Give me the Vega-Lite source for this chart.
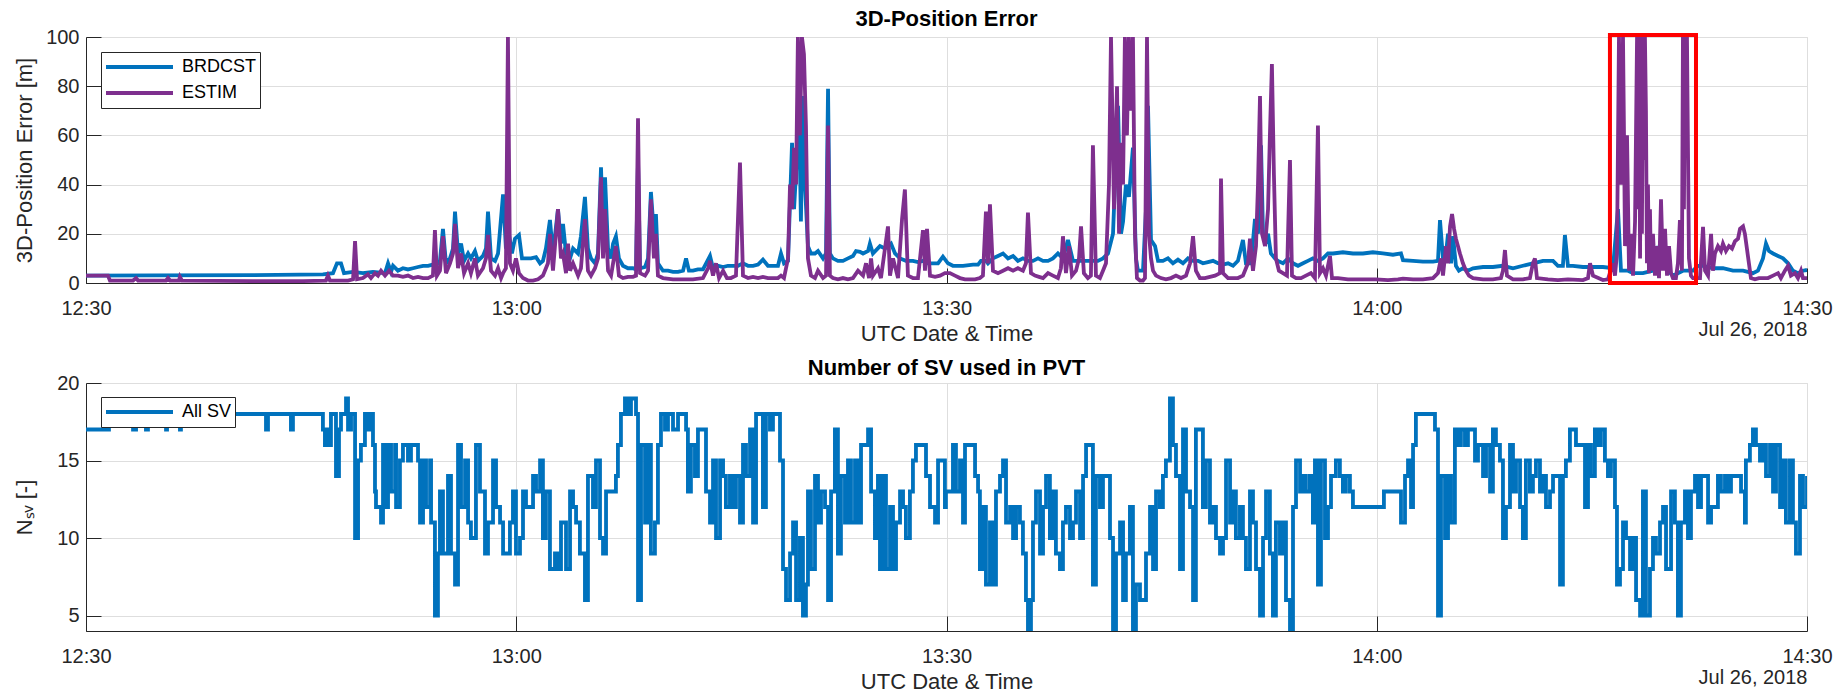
{
"$schema": "https://vega.github.io/schema/vega-lite/v6.json",
"padding": {"left": 12, "top": 7, "right": 5, "bottom": 0},
"bounds": "flush",
"spacing": 100,
"background": "white",
"resolve": {"scale": {"color": "independent"}, "legend": {"color": "independent"}},
"config": {
 "font": "Liberation Sans",
 "view": {"stroke": "#dcdcdc", "strokeWidth": 1},
 "axis": {"labelFont": "Liberation Sans", "titleFont": "Liberation Sans", "labelFontSize": 20, "titleFontSize": 22, "labelColor": "#262626", "titleColor": "#262626", "titleFontWeight": "normal", "domainColor": "#262626", "domainWidth": 1, "tickColor": "#262626", "tickSize": -15, "tickWidth": 1, "gridColor": "#dedede", "gridWidth": 1}
},
"datasets": {
"brdcst": [{"m":0,"v":3},{"m":4.67,"v":3.1},{"m":11.64,"v":3.2},{"m":16.52,"v":3.5},{"m":17.22,"v":4},{"m":17.5,"v":8},{"m":17.78,"v":8},{"m":17.99,"v":4},{"m":18.62,"v":4.5},{"m":19.31,"v":4},{"m":20.01,"v":4.5},{"m":20.85,"v":4},{"m":21.06,"v":8},{"m":21.27,"v":4.5},{"m":21.41,"v":7},{"m":21.75,"v":5},{"m":22.1,"v":6},{"m":22.45,"v":5.5},{"m":22.8,"v":6},{"m":23.15,"v":6.5},{"m":23.5,"v":7},{"m":23.85,"v":7},{"m":24.19,"v":7.5},{"m":24.4,"v":7},{"m":24.68,"v":9},{"m":24.89,"v":22},{"m":25.1,"v":8},{"m":25.38,"v":10},{"m":25.59,"v":14},{"m":25.73,"v":29},{"m":25.94,"v":12},{"m":26.15,"v":16},{"m":26.36,"v":9},{"m":26.64,"v":12},{"m":26.84,"v":10},{"m":27.12,"v":13},{"m":27.33,"v":9},{"m":27.68,"v":11},{"m":27.89,"v":14},{"m":28.03,"v":29},{"m":28.24,"v":10},{"m":28.52,"v":9},{"m":28.73,"v":12},{"m":29.08,"v":36},{"m":29.28,"v":14},{"m":29.49,"v":20},{"m":29.7,"v":12},{"m":29.91,"v":18},{"m":30.19,"v":19.5},{"m":30.4,"v":10},{"m":30.68,"v":10},{"m":31.03,"v":10},{"m":31.38,"v":10.5},{"m":31.66,"v":8},{"m":31.86,"v":9},{"m":32.07,"v":14},{"m":32.35,"v":25.6},{"m":32.56,"v":12},{"m":32.91,"v":30},{"m":33.12,"v":16},{"m":33.26,"v":24},{"m":33.47,"v":12},{"m":33.75,"v":10},{"m":33.96,"v":14},{"m":34.31,"v":12},{"m":34.51,"v":19},{"m":34.79,"v":35},{"m":35,"v":14},{"m":35.21,"v":10},{"m":35.49,"v":8},{"m":35.7,"v":12},{"m":35.91,"v":47},{"m":36.05,"v":20},{"m":36.19,"v":43},{"m":36.4,"v":14},{"m":36.61,"v":10},{"m":36.75,"v":16},{"m":36.95,"v":19},{"m":37.16,"v":10},{"m":37.44,"v":7},{"m":37.79,"v":6},{"m":38.14,"v":6},{"m":38.35,"v":5.5},{"m":38.49,"v":50},{"m":38.63,"v":6},{"m":38.98,"v":6.5},{"m":39.19,"v":10},{"m":39.39,"v":37},{"m":39.6,"v":20},{"m":39.74,"v":28},{"m":39.88,"v":8},{"m":40.23,"v":5},{"m":40.58,"v":5},{"m":40.93,"v":4.5},{"m":41.28,"v":4.5},{"m":41.63,"v":5},{"m":41.84,"v":10},{"m":42.04,"v":5},{"m":42.32,"v":5},{"m":42.67,"v":5.5},{"m":43.02,"v":5.5},{"m":43.51,"v":11},{"m":43.72,"v":6},{"m":44.07,"v":7},{"m":44.42,"v":6.5},{"m":44.76,"v":7},{"m":45.11,"v":7},{"m":45.46,"v":7},{"m":45.81,"v":8},{"m":46.16,"v":7},{"m":46.51,"v":7},{"m":46.86,"v":7.5},{"m":47.2,"v":9.5},{"m":47.55,"v":7},{"m":47.9,"v":7},{"m":48.25,"v":7},{"m":48.46,"v":12},{"m":48.67,"v":8},{"m":48.95,"v":9},{"m":49.23,"v":57},{"m":49.37,"v":30},{"m":49.51,"v":45},{"m":49.71,"v":72},{"m":49.85,"v":25},{"m":49.99,"v":76},{"m":50.13,"v":40},{"m":50.34,"v":15},{"m":50.55,"v":12},{"m":50.83,"v":12},{"m":51.04,"v":13},{"m":51.39,"v":10},{"m":51.6,"v":12},{"m":51.74,"v":79},{"m":51.87,"v":12},{"m":52.08,"v":10},{"m":52.43,"v":9},{"m":52.78,"v":9},{"m":53.13,"v":10},{"m":53.48,"v":11},{"m":53.69,"v":13},{"m":53.97,"v":12.7},{"m":54.18,"v":12},{"m":54.53,"v":13},{"m":54.66,"v":16},{"m":54.87,"v":12},{"m":55.36,"v":15},{"m":55.71,"v":14},{"m":56.13,"v":16},{"m":56.41,"v":12},{"m":56.76,"v":10},{"m":57.17,"v":9},{"m":57.66,"v":9},{"m":58.01,"v":8.5},{"m":58.36,"v":9},{"m":58.71,"v":8},{"m":59.06,"v":8},{"m":59.41,"v":8},{"m":59.75,"v":10.7},{"m":60.1,"v":8},{"m":60.45,"v":7},{"m":61.15,"v":7},{"m":61.85,"v":7.5},{"m":62.2,"v":7.5},{"m":62.4,"v":9},{"m":62.75,"v":9},{"m":62.89,"v":8},{"m":63.24,"v":10},{"m":63.59,"v":11},{"m":63.94,"v":12},{"m":64.29,"v":10},{"m":64.64,"v":11},{"m":64.98,"v":9},{"m":65.33,"v":10},{"m":65.68,"v":9},{"m":66.03,"v":9},{"m":66.38,"v":10},{"m":66.73,"v":9},{"m":67.08,"v":9},{"m":67.42,"v":10},{"m":67.77,"v":12},{"m":68.12,"v":10},{"m":68.47,"v":17.5},{"m":68.82,"v":9},{"m":69.52,"v":9},{"m":70.21,"v":9},{"m":70.56,"v":9},{"m":70.91,"v":10},{"m":71.26,"v":12},{"m":71.61,"v":20},{"m":71.96,"v":72},{"m":72.17,"v":20},{"m":72.31,"v":25},{"m":72.51,"v":40},{"m":72.72,"v":35},{"m":73,"v":55},{"m":73.21,"v":10},{"m":73.35,"v":5},{"m":73.7,"v":5},{"m":73.91,"v":30},{"m":74.05,"v":72},{"m":74.26,"v":17.5},{"m":74.54,"v":15},{"m":74.75,"v":9},{"m":75.09,"v":9},{"m":75.44,"v":10},{"m":75.79,"v":8},{"m":76.14,"v":9.5},{"m":76.49,"v":8},{"m":76.84,"v":10},{"m":77.19,"v":9},{"m":77.54,"v":9},{"m":77.88,"v":8},{"m":78.23,"v":8.5},{"m":78.58,"v":9},{"m":78.93,"v":8},{"m":79.28,"v":7.5},{"m":79.63,"v":8},{"m":79.98,"v":7},{"m":80.32,"v":9},{"m":80.67,"v":17.5},{"m":80.88,"v":8},{"m":81.23,"v":8},{"m":81.51,"v":26},{"m":81.72,"v":20},{"m":81.93,"v":56},{"m":82.07,"v":20},{"m":82.28,"v":17},{"m":82.42,"v":20},{"m":82.62,"v":12},{"m":82.9,"v":10},{"m":83.11,"v":9},{"m":83.46,"v":8},{"m":83.81,"v":10},{"m":84.16,"v":8},{"m":84.51,"v":7},{"m":84.86,"v":8},{"m":85.2,"v":9},{"m":85.55,"v":10},{"m":85.9,"v":9},{"m":86.25,"v":10},{"m":86.6,"v":12},{"m":86.95,"v":12},{"m":87.64,"v":12.5},{"m":88.34,"v":12},{"m":89.04,"v":12},{"m":89.73,"v":12.5},{"m":90.43,"v":12},{"m":91.13,"v":11.5},{"m":91.69,"v":12},{"m":91.83,"v":9.3},{"m":92.53,"v":9},{"m":93.22,"v":8.7},{"m":93.92,"v":8.7},{"m":94.27,"v":9},{"m":94.41,"v":25.6},{"m":94.62,"v":10},{"m":94.83,"v":12},{"m":94.97,"v":20},{"m":95.18,"v":8},{"m":95.32,"v":19},{"m":95.52,"v":7},{"m":95.73,"v":5},{"m":96.01,"v":6},{"m":96.36,"v":5},{"m":96.71,"v":6},{"m":97.41,"v":6.5},{"m":98.1,"v":6.5},{"m":98.8,"v":7},{"m":99.5,"v":6},{"m":100.19,"v":7},{"m":100.89,"v":8},{"m":101.59,"v":9},{"m":102.29,"v":9},{"m":102.63,"v":7},{"m":102.98,"v":7},{"m":103.12,"v":19.5},{"m":103.33,"v":7},{"m":103.68,"v":7},{"m":104.38,"v":6.5},{"m":105.08,"v":6.5},{"m":105.77,"v":6.5},{"m":106.47,"v":6},{"m":106.82,"v":30},{"m":107.03,"v":5},{"m":107.52,"v":5},{"m":107.87,"v":4},{"m":108.56,"v":4},{"m":109.26,"v":5},{"m":109.61,"v":15},{"m":109.82,"v":8},{"m":110.31,"v":5},{"m":110.65,"v":3},{"m":111.35,"v":5},{"m":112.05,"v":5},{"m":112.4,"v":7},{"m":112.75,"v":7},{"m":113.44,"v":6},{"m":114.14,"v":6},{"m":114.84,"v":5},{"m":115.54,"v":5},{"m":116.23,"v":4},{"m":116.58,"v":5},{"m":116.93,"v":10},{"m":117.14,"v":16},{"m":117.35,"v":13},{"m":117.63,"v":12},{"m":117.98,"v":11},{"m":118.33,"v":10},{"m":118.68,"v":8},{"m":119.02,"v":5},{"m":119.37,"v":4},{"m":119.72,"v":5},{"m":120,"v":5.3}],
"estim": [{"m":0,"v":3},{"m":1.19,"v":3},{"m":1.53,"v":3},{"m":1.67,"v":1},{"m":3.28,"v":1},{"m":3.49,"v":2},{"m":3.63,"v":1},{"m":5.58,"v":1},{"m":5.72,"v":2},{"m":5.86,"v":1},{"m":6.48,"v":1},{"m":6.55,"v":2.5},{"m":6.69,"v":1},{"m":11.64,"v":0.8},{"m":15.13,"v":0.8},{"m":16.73,"v":1},{"m":16.87,"v":3},{"m":17.01,"v":1},{"m":18.27,"v":1},{"m":18.62,"v":1.5},{"m":18.76,"v":17},{"m":18.9,"v":1.5},{"m":19.31,"v":2},{"m":19.66,"v":3.5},{"m":19.87,"v":2},{"m":20.15,"v":4},{"m":20.36,"v":3},{"m":20.57,"v":5},{"m":20.85,"v":3},{"m":21.13,"v":5},{"m":21.41,"v":3},{"m":21.75,"v":3},{"m":22.1,"v":2.5},{"m":22.45,"v":3},{"m":22.8,"v":2},{"m":23.15,"v":2.5},{"m":23.5,"v":2},{"m":23.85,"v":2},{"m":24.19,"v":3},{"m":24.33,"v":21.5},{"m":24.47,"v":3},{"m":24.68,"v":5},{"m":24.89,"v":19},{"m":25.1,"v":4},{"m":25.38,"v":8},{"m":25.59,"v":12},{"m":25.73,"v":24},{"m":25.94,"v":6},{"m":26.15,"v":12},{"m":26.36,"v":4},{"m":26.64,"v":8},{"m":26.84,"v":4},{"m":27.12,"v":10},{"m":27.33,"v":3},{"m":27.68,"v":6},{"m":27.89,"v":10},{"m":28.03,"v":19.5},{"m":28.24,"v":5},{"m":28.52,"v":3},{"m":28.73,"v":6},{"m":28.94,"v":2},{"m":29.08,"v":4},{"m":29.28,"v":6},{"m":29.42,"v":100},{"m":29.56,"v":8},{"m":29.77,"v":5},{"m":29.98,"v":10},{"m":30.19,"v":4},{"m":30.47,"v":2},{"m":30.82,"v":1},{"m":31.17,"v":1},{"m":31.52,"v":1.5},{"m":31.86,"v":3},{"m":32.21,"v":8},{"m":32.35,"v":20},{"m":32.56,"v":5},{"m":32.91,"v":30},{"m":33.12,"v":10},{"m":33.26,"v":12},{"m":33.47,"v":4},{"m":33.61,"v":16},{"m":33.75,"v":5},{"m":33.96,"v":8},{"m":34.31,"v":3},{"m":34.51,"v":6},{"m":34.79,"v":26},{"m":35,"v":5},{"m":35.21,"v":3},{"m":35.49,"v":6},{"m":35.7,"v":10},{"m":35.91,"v":43},{"m":36.05,"v":10},{"m":36.19,"v":30},{"m":36.4,"v":5},{"m":36.61,"v":3},{"m":36.75,"v":8},{"m":36.95,"v":15},{"m":37.16,"v":3},{"m":37.44,"v":2},{"m":37.79,"v":2.5},{"m":38.14,"v":2.5},{"m":38.35,"v":3},{"m":38.49,"v":67},{"m":38.63,"v":4},{"m":38.98,"v":3},{"m":39.19,"v":5},{"m":39.39,"v":34},{"m":39.6,"v":10},{"m":39.74,"v":20},{"m":39.88,"v":3},{"m":40.23,"v":2},{"m":40.93,"v":1.5},{"m":41.63,"v":1.5},{"m":42.32,"v":1.5},{"m":43.02,"v":2},{"m":43.37,"v":6},{"m":43.51,"v":9},{"m":43.72,"v":3},{"m":43.93,"v":8},{"m":44.14,"v":2},{"m":44.42,"v":5},{"m":44.69,"v":2},{"m":44.97,"v":2},{"m":45.32,"v":3},{"m":45.6,"v":49},{"m":45.81,"v":3},{"m":46.16,"v":2},{"m":46.51,"v":2.5},{"m":46.86,"v":2},{"m":47.2,"v":2.5},{"m":47.55,"v":2},{"m":47.9,"v":2},{"m":48.25,"v":2},{"m":48.46,"v":3},{"m":48.67,"v":2},{"m":48.95,"v":10},{"m":49.09,"v":40},{"m":49.23,"v":30},{"m":49.37,"v":55},{"m":49.51,"v":40},{"m":49.64,"v":100},{"m":49.78,"v":60},{"m":49.92,"v":100},{"m":50.06,"v":93},{"m":50.2,"v":64},{"m":50.34,"v":10},{"m":50.55,"v":3},{"m":50.83,"v":2},{"m":51.04,"v":5},{"m":51.39,"v":2},{"m":51.6,"v":3},{"m":51.74,"v":64},{"m":51.87,"v":3},{"m":52.08,"v":2},{"m":52.43,"v":1.5},{"m":52.78,"v":2},{"m":53.13,"v":1.5},{"m":53.48,"v":2},{"m":53.83,"v":5},{"m":54.18,"v":3},{"m":54.39,"v":8},{"m":54.6,"v":2},{"m":54.74,"v":10},{"m":54.87,"v":3},{"m":55.22,"v":6},{"m":55.43,"v":2},{"m":55.92,"v":23},{"m":56.06,"v":3},{"m":56.27,"v":10},{"m":56.62,"v":2},{"m":56.9,"v":26},{"m":57.1,"v":38},{"m":57.31,"v":3},{"m":57.66,"v":2},{"m":58.01,"v":2},{"m":58.36,"v":21.5},{"m":58.5,"v":5},{"m":58.64,"v":22},{"m":58.85,"v":3},{"m":59.2,"v":2.5},{"m":59.55,"v":3},{"m":59.89,"v":4},{"m":60.24,"v":4},{"m":60.59,"v":3},{"m":60.94,"v":2},{"m":61.29,"v":1.5},{"m":61.64,"v":1.5},{"m":61.99,"v":1.5},{"m":62.33,"v":2},{"m":62.54,"v":3},{"m":62.75,"v":29},{"m":62.89,"v":8},{"m":63.03,"v":32},{"m":63.24,"v":5},{"m":63.59,"v":4},{"m":63.94,"v":5},{"m":64.29,"v":6},{"m":64.64,"v":5},{"m":64.98,"v":6},{"m":65.33,"v":5},{"m":65.54,"v":8},{"m":65.68,"v":28.6},{"m":65.89,"v":4},{"m":66.17,"v":3},{"m":66.45,"v":2.5},{"m":66.73,"v":2},{"m":67.08,"v":4},{"m":67.42,"v":3},{"m":67.77,"v":2},{"m":67.98,"v":6},{"m":68.12,"v":19},{"m":68.33,"v":4},{"m":68.54,"v":15},{"m":68.75,"v":3},{"m":69.03,"v":5},{"m":69.24,"v":10},{"m":69.38,"v":23},{"m":69.58,"v":4},{"m":69.86,"v":2},{"m":70.07,"v":3},{"m":70.21,"v":56},{"m":70.42,"v":3},{"m":70.7,"v":2},{"m":70.91,"v":5},{"m":71.12,"v":8},{"m":71.33,"v":40},{"m":71.47,"v":100},{"m":71.68,"v":30},{"m":71.89,"v":80},{"m":72.03,"v":20},{"m":72.17,"v":57},{"m":72.31,"v":40},{"m":72.44,"v":100},{"m":72.58,"v":60},{"m":72.72,"v":100},{"m":72.86,"v":70},{"m":73,"v":100},{"m":73.14,"v":20},{"m":73.28,"v":2},{"m":73.49,"v":1},{"m":73.7,"v":1},{"m":73.84,"v":2},{"m":73.98,"v":100},{"m":74.12,"v":20},{"m":74.26,"v":10},{"m":74.4,"v":5},{"m":74.61,"v":3},{"m":74.95,"v":2},{"m":75.3,"v":1.5},{"m":75.65,"v":2},{"m":76,"v":3},{"m":76.35,"v":2},{"m":76.7,"v":3},{"m":76.98,"v":8},{"m":77.19,"v":19},{"m":77.39,"v":5},{"m":77.67,"v":2},{"m":78.02,"v":2},{"m":78.37,"v":2.5},{"m":78.72,"v":3},{"m":79.07,"v":4},{"m":79.14,"v":42.5},{"m":79.28,"v":4},{"m":79.63,"v":2},{"m":79.98,"v":2},{"m":80.32,"v":2},{"m":80.67,"v":3},{"m":81.02,"v":8},{"m":81.16,"v":18},{"m":81.37,"v":5},{"m":81.58,"v":15},{"m":81.72,"v":40},{"m":81.86,"v":76},{"m":82,"v":20},{"m":82.21,"v":15},{"m":82.42,"v":30},{"m":82.55,"v":60},{"m":82.69,"v":89},{"m":82.83,"v":44},{"m":82.97,"v":10},{"m":83.18,"v":5},{"m":83.46,"v":4},{"m":83.74,"v":3},{"m":83.95,"v":50},{"m":84.09,"v":3},{"m":84.37,"v":2},{"m":84.72,"v":2},{"m":85.06,"v":3},{"m":85.41,"v":4},{"m":85.69,"v":2},{"m":85.9,"v":64},{"m":86.04,"v":4},{"m":86.25,"v":6},{"m":86.46,"v":3},{"m":86.74,"v":11},{"m":86.88,"v":2},{"m":87.29,"v":2},{"m":87.99,"v":1.5},{"m":89.04,"v":1.5},{"m":89.94,"v":1.5},{"m":90.78,"v":1.2},{"m":91.48,"v":1.5},{"m":91.83,"v":1.8},{"m":92.53,"v":1.5},{"m":93.22,"v":1.5},{"m":93.92,"v":2},{"m":94.27,"v":4},{"m":94.48,"v":10},{"m":94.62,"v":3},{"m":94.83,"v":15},{"m":94.97,"v":8},{"m":95.11,"v":23},{"m":95.25,"v":28},{"m":95.39,"v":22},{"m":95.52,"v":18},{"m":95.66,"v":15},{"m":95.8,"v":12},{"m":96.01,"v":8},{"m":96.22,"v":5},{"m":96.43,"v":3},{"m":96.71,"v":2},{"m":97.41,"v":1.5},{"m":98.1,"v":1.5},{"m":98.66,"v":2},{"m":98.8,"v":5},{"m":98.94,"v":13.4},{"m":99.08,"v":3},{"m":99.5,"v":1.5},{"m":100.19,"v":1.5},{"m":100.68,"v":2},{"m":100.89,"v":8},{"m":101.03,"v":10},{"m":101.17,"v":2},{"m":101.94,"v":1.5},{"m":102.63,"v":1.2},{"m":103.33,"v":1.5},{"m":104.38,"v":1.2},{"m":104.73,"v":2},{"m":104.87,"v":8},{"m":105.08,"v":3},{"m":105.77,"v":1.2},{"m":106.12,"v":1.5},{"m":106.47,"v":8},{"m":106.61,"v":3},{"m":106.75,"v":12},{"m":106.89,"v":100},{"m":107.03,"v":40},{"m":107.17,"v":100},{"m":107.24,"v":60},{"m":107.31,"v":15},{"m":107.45,"v":60},{"m":107.59,"v":5},{"m":107.73,"v":20},{"m":107.87,"v":3},{"m":108.01,"v":25},{"m":108.15,"v":100},{"m":108.22,"v":30},{"m":108.29,"v":100},{"m":108.36,"v":10},{"m":108.43,"v":100},{"m":108.49,"v":20},{"m":108.56,"v":100},{"m":108.63,"v":50},{"m":108.7,"v":100},{"m":108.77,"v":70},{"m":108.84,"v":8},{"m":108.91,"v":40},{"m":108.98,"v":4},{"m":109.05,"v":30},{"m":109.12,"v":5},{"m":109.26,"v":20},{"m":109.4,"v":3},{"m":109.54,"v":15},{"m":109.68,"v":2},{"m":109.82,"v":34},{"m":109.96,"v":5},{"m":110.1,"v":22},{"m":110.24,"v":3},{"m":110.38,"v":15},{"m":110.52,"v":4},{"m":110.65,"v":2},{"m":110.86,"v":2},{"m":111,"v":8},{"m":111.14,"v":25.6},{"m":111.28,"v":5},{"m":111.35,"v":100},{"m":111.42,"v":30},{"m":111.49,"v":100},{"m":111.56,"v":60},{"m":111.63,"v":100},{"m":111.77,"v":10},{"m":111.91,"v":3},{"m":112.05,"v":2},{"m":112.26,"v":2},{"m":112.54,"v":2},{"m":112.75,"v":22.8},{"m":112.89,"v":5},{"m":113.1,"v":3},{"m":113.31,"v":20},{"m":113.44,"v":5},{"m":113.58,"v":12},{"m":113.79,"v":15},{"m":114,"v":13},{"m":114.14,"v":16},{"m":114.35,"v":13},{"m":114.56,"v":15},{"m":114.77,"v":14},{"m":114.98,"v":17},{"m":115.19,"v":18},{"m":115.33,"v":22},{"m":115.54,"v":23},{"m":115.67,"v":20},{"m":115.81,"v":14},{"m":115.95,"v":8},{"m":116.09,"v":2},{"m":116.37,"v":1.5},{"m":116.65,"v":2},{"m":116.93,"v":2},{"m":117.28,"v":2},{"m":117.63,"v":3},{"m":117.98,"v":4},{"m":118.18,"v":2},{"m":118.46,"v":5},{"m":118.68,"v":7},{"m":118.88,"v":3},{"m":119.16,"v":4},{"m":119.37,"v":2},{"m":119.58,"v":5},{"m":119.72,"v":2},{"m":120,"v":2}],
"box": [{"m0":106.26,"m1":112.26,"v0":0,"v1":100.8}],
"nsv": [{"m":0,"v":17},{"m":1.6,"v":18},{"m":3.28,"v":17},{"m":3.49,"v":18},{"m":4.18,"v":17},{"m":4.32,"v":18},{"m":5.58,"v":17},{"m":5.65,"v":18},{"m":6.55,"v":17},{"m":6.62,"v":18},{"m":12.55,"v":17},{"m":12.69,"v":18},{"m":14.29,"v":17},{"m":14.43,"v":18},{"m":16.52,"v":17},{"m":16.66,"v":16},{"m":16.8,"v":17},{"m":17.01,"v":16},{"m":17.08,"v":18},{"m":17.43,"v":14},{"m":17.64,"v":17},{"m":17.78,"v":18},{"m":18.13,"v":19},{"m":18.27,"v":17},{"m":18.48,"v":18},{"m":18.76,"v":10},{"m":18.97,"v":15},{"m":19.17,"v":16},{"m":19.45,"v":18},{"m":19.66,"v":17},{"m":19.8,"v":18},{"m":20.01,"v":16},{"m":20.15,"v":13},{"m":20.22,"v":12},{"m":20.57,"v":11},{"m":20.71,"v":16},{"m":20.85,"v":12},{"m":21.06,"v":16},{"m":21.27,"v":13},{"m":21.55,"v":16},{"m":21.62,"v":12},{"m":21.89,"v":15},{"m":22.1,"v":16},{"m":22.45,"v":15},{"m":22.66,"v":16},{"m":23.15,"v":15},{"m":23.29,"v":11},{"m":23.5,"v":15},{"m":23.71,"v":12},{"m":23.99,"v":15},{"m":24.06,"v":11},{"m":24.33,"v":5},{"m":24.54,"v":9},{"m":24.68,"v":13},{"m":24.89,"v":9},{"m":25.24,"v":14},{"m":25.45,"v":9},{"m":25.73,"v":7},{"m":25.94,"v":16},{"m":26.15,"v":12},{"m":26.43,"v":15},{"m":26.64,"v":11},{"m":26.84,"v":10},{"m":27.19,"v":16},{"m":27.47,"v":13},{"m":27.82,"v":9},{"m":28.03,"v":11},{"m":28.38,"v":15},{"m":28.59,"v":12},{"m":28.87,"v":11},{"m":29.08,"v":9},{"m":29.56,"v":11},{"m":29.77,"v":13},{"m":29.98,"v":9},{"m":30.26,"v":10},{"m":30.47,"v":13},{"m":30.68,"v":12},{"m":31.17,"v":14},{"m":31.38,"v":13},{"m":31.66,"v":15},{"m":31.86,"v":10},{"m":32.07,"v":13},{"m":32.35,"v":8},{"m":32.7,"v":9},{"m":32.91,"v":8},{"m":33.12,"v":11},{"m":33.47,"v":8},{"m":33.75,"v":13},{"m":33.96,"v":12},{"m":34.17,"v":11},{"m":34.44,"v":9},{"m":34.79,"v":6},{"m":35,"v":14},{"m":35.35,"v":12},{"m":35.56,"v":15},{"m":35.84,"v":10},{"m":36.05,"v":9},{"m":36.26,"v":13},{"m":36.95,"v":14},{"m":37.09,"v":16},{"m":37.3,"v":18},{"m":37.58,"v":19},{"m":37.79,"v":18},{"m":38,"v":19},{"m":38.35,"v":18},{"m":38.49,"v":6},{"m":38.7,"v":16},{"m":38.98,"v":11},{"m":39.19,"v":16},{"m":39.39,"v":9},{"m":39.67,"v":11},{"m":39.88,"v":16},{"m":40.09,"v":18},{"m":40.37,"v":17},{"m":40.58,"v":18},{"m":40.93,"v":17},{"m":41.28,"v":18},{"m":41.84,"v":17},{"m":41.97,"v":13},{"m":42.18,"v":16},{"m":42.46,"v":14},{"m":42.67,"v":17},{"m":43.23,"v":13},{"m":43.51,"v":11},{"m":43.72,"v":15},{"m":43.93,"v":10},{"m":44.21,"v":15},{"m":44.42,"v":14},{"m":44.62,"v":12},{"m":44.9,"v":14},{"m":45.11,"v":12},{"m":45.32,"v":14},{"m":45.6,"v":11},{"m":45.81,"v":16},{"m":46.02,"v":14},{"m":46.3,"v":17},{"m":46.51,"v":11},{"m":46.72,"v":18},{"m":47.2,"v":12},{"m":47.41,"v":18},{"m":47.69,"v":17},{"m":47.9,"v":18},{"m":48.39,"v":15},{"m":48.6,"v":8},{"m":48.81,"v":6},{"m":49.09,"v":9},{"m":49.3,"v":11},{"m":49.51,"v":6},{"m":49.78,"v":10},{"m":49.99,"v":5},{"m":50.2,"v":7},{"m":50.34,"v":13},{"m":50.55,"v":8},{"m":50.83,"v":14},{"m":51.04,"v":11},{"m":51.25,"v":13},{"m":51.53,"v":12},{"m":51.74,"v":6},{"m":51.95,"v":13},{"m":52.22,"v":17},{"m":52.43,"v":9},{"m":52.64,"v":14},{"m":52.92,"v":11},{"m":53.13,"v":15},{"m":53.34,"v":11},{"m":53.62,"v":15},{"m":53.83,"v":11},{"m":54.04,"v":16},{"m":54.53,"v":17},{"m":54.74,"v":13},{"m":55.01,"v":10},{"m":55.22,"v":14},{"m":55.36,"v":8},{"m":55.57,"v":14},{"m":55.78,"v":8},{"m":56.06,"v":12},{"m":56.27,"v":8},{"m":56.48,"v":11},{"m":56.76,"v":13},{"m":56.97,"v":12},{"m":57.17,"v":10},{"m":57.45,"v":13},{"m":57.66,"v":15},{"m":57.87,"v":16},{"m":58.57,"v":14},{"m":58.85,"v":12},{"m":59.2,"v":11},{"m":59.41,"v":15},{"m":59.89,"v":12},{"m":59.96,"v":13},{"m":60.45,"v":16},{"m":60.66,"v":13},{"m":60.94,"v":15},{"m":61.15,"v":11},{"m":61.29,"v":16},{"m":61.99,"v":14},{"m":62.2,"v":13},{"m":62.33,"v":8},{"m":62.54,"v":12},{"m":62.75,"v":7},{"m":63.03,"v":11},{"m":63.24,"v":7},{"m":63.45,"v":13},{"m":63.73,"v":14},{"m":63.94,"v":15},{"m":64.15,"v":11},{"m":64.43,"v":12},{"m":64.64,"v":10},{"m":64.85,"v":12},{"m":65.12,"v":11},{"m":65.33,"v":9},{"m":65.54,"v":6},{"m":65.68,"v":4},{"m":65.89,"v":6},{"m":66.03,"v":11},{"m":66.24,"v":13},{"m":66.52,"v":9},{"m":66.73,"v":12},{"m":66.94,"v":14},{"m":67.21,"v":10},{"m":67.42,"v":13},{"m":67.63,"v":9},{"m":67.91,"v":8},{"m":68.12,"v":11},{"m":68.33,"v":12},{"m":68.61,"v":10},{"m":68.82,"v":11},{"m":69.03,"v":13},{"m":69.31,"v":10},{"m":69.52,"v":14},{"m":69.73,"v":16},{"m":70.21,"v":7},{"m":70.42,"v":14},{"m":70.7,"v":12},{"m":70.91,"v":14},{"m":71.4,"v":10},{"m":71.61,"v":4},{"m":71.82,"v":9},{"m":72.1,"v":11},{"m":72.31,"v":6},{"m":72.51,"v":9},{"m":72.79,"v":12},{"m":73,"v":4},{"m":73.21,"v":7},{"m":73.49,"v":6},{"m":73.91,"v":9},{"m":74.19,"v":12},{"m":74.4,"v":8},{"m":74.61,"v":13},{"m":74.88,"v":12},{"m":75.09,"v":14},{"m":75.3,"v":15},{"m":75.58,"v":19},{"m":75.79,"v":16},{"m":76,"v":14},{"m":76.28,"v":8},{"m":76.49,"v":17},{"m":76.7,"v":13},{"m":76.98,"v":12},{"m":77.19,"v":6},{"m":77.39,"v":17},{"m":77.88,"v":12},{"m":78.09,"v":15},{"m":78.37,"v":11},{"m":78.58,"v":12},{"m":78.79,"v":10},{"m":79.07,"v":9},{"m":79.28,"v":10},{"m":79.49,"v":15},{"m":79.77,"v":11},{"m":79.98,"v":13},{"m":80.18,"v":10},{"m":80.46,"v":12},{"m":80.67,"v":10},{"m":80.88,"v":8},{"m":81.16,"v":13},{"m":81.37,"v":11},{"m":81.58,"v":8},{"m":81.86,"v":5},{"m":82.07,"v":10},{"m":82.28,"v":13},{"m":82.55,"v":9},{"m":82.76,"v":5},{"m":82.97,"v":11},{"m":83.25,"v":9},{"m":83.46,"v":11},{"m":83.67,"v":6},{"m":83.95,"v":4},{"m":84.16,"v":12},{"m":84.37,"v":15},{"m":84.65,"v":13},{"m":84.86,"v":14},{"m":85.06,"v":13},{"m":85.34,"v":14},{"m":85.55,"v":11},{"m":85.69,"v":15},{"m":85.9,"v":7},{"m":86.11,"v":15},{"m":86.39,"v":10},{"m":86.6,"v":12},{"m":86.81,"v":14},{"m":87.15,"v":15},{"m":87.43,"v":14},{"m":87.64,"v":13},{"m":87.85,"v":14},{"m":88.13,"v":13},{"m":88.34,"v":12},{"m":90.5,"v":13},{"m":91.69,"v":11},{"m":91.97,"v":14},{"m":92.18,"v":15},{"m":92.39,"v":12},{"m":92.53,"v":16},{"m":92.73,"v":18},{"m":94.06,"v":17},{"m":94.27,"v":5},{"m":94.48,"v":14},{"m":94.76,"v":10},{"m":94.97,"v":14},{"m":95.18,"v":11},{"m":95.45,"v":17},{"m":95.66,"v":16},{"m":95.87,"v":17},{"m":96.15,"v":16},{"m":96.36,"v":17},{"m":96.85,"v":15},{"m":97.06,"v":16},{"m":97.41,"v":14},{"m":97.62,"v":16},{"m":97.9,"v":13},{"m":98.1,"v":17},{"m":98.31,"v":16},{"m":98.59,"v":15},{"m":98.8,"v":10},{"m":99.01,"v":12},{"m":99.29,"v":16},{"m":99.5,"v":13},{"m":99.71,"v":15},{"m":99.99,"v":12},{"m":100.19,"v":10},{"m":100.4,"v":15},{"m":100.68,"v":13},{"m":100.89,"v":14},{"m":101.1,"v":15},{"m":101.38,"v":13},{"m":101.59,"v":14},{"m":101.8,"v":12},{"m":102.08,"v":13},{"m":102.29,"v":14},{"m":102.78,"v":7},{"m":102.98,"v":14},{"m":103.19,"v":15},{"m":103.47,"v":17},{"m":103.89,"v":16},{"m":104.52,"v":12},{"m":104.73,"v":16},{"m":104.94,"v":14},{"m":105.21,"v":17},{"m":105.42,"v":16},{"m":105.63,"v":17},{"m":105.91,"v":15},{"m":106.12,"v":14},{"m":106.33,"v":15},{"m":106.61,"v":12},{"m":106.75,"v":7},{"m":106.96,"v":8},{"m":107.17,"v":11},{"m":107.38,"v":10},{"m":107.66,"v":8},{"m":107.87,"v":10},{"m":108.08,"v":6},{"m":108.36,"v":5},{"m":108.56,"v":13},{"m":108.77,"v":5},{"m":109.05,"v":8},{"m":109.26,"v":10},{"m":109.47,"v":9},{"m":109.75,"v":11},{"m":109.96,"v":12},{"m":110.17,"v":8},{"m":110.52,"v":13},{"m":110.79,"v":11},{"m":111,"v":5},{"m":111.21,"v":11},{"m":111.49,"v":13},{"m":111.7,"v":10},{"m":111.91,"v":13},{"m":112.19,"v":14},{"m":112.4,"v":12},{"m":112.61,"v":14},{"m":113.1,"v":11},{"m":113.31,"v":12},{"m":113.79,"v":14},{"m":114,"v":13},{"m":114.28,"v":14},{"m":114.49,"v":13},{"m":114.7,"v":14},{"m":115.4,"v":13},{"m":115.67,"v":11},{"m":115.74,"v":15},{"m":116.02,"v":16},{"m":116.23,"v":17},{"m":116.44,"v":16},{"m":116.72,"v":15},{"m":116.93,"v":16},{"m":117.14,"v":14},{"m":117.42,"v":16},{"m":117.63,"v":13},{"m":117.84,"v":16},{"m":118.12,"v":12},{"m":118.33,"v":15},{"m":118.53,"v":11},{"m":118.81,"v":15},{"m":119.02,"v":11},{"m":119.23,"v":9},{"m":119.51,"v":14},{"m":119.72,"v":12},{"m":120,"v":14}]
},
"vconcat": [
 {
  "width": 1721, "height": 246,
  "title": {"text": "3D-Position Error", "font": "Liberation Sans", "fontSize": 22, "fontWeight": "bold", "color": "#000000", "offset": -26, "baseline": "bottom", "anchor": "middle"},
  "layer": [
   {"data": {"name": "brdcst"}, "mark": {"type": "line", "clip": true, "strokeWidth": 3.8},
    "encoding": {
     "x": {"field": "m", "type": "quantitative", "scale": {"domain": [0, 120], "nice": false, "zero": false},
       "axis": {"orient": "bottom", "values": [0, 30, 60, 90, 120], "labelExpr": "['12:30','13:00','13:30','14:00','14:30'][round(datum.value/30)]", "labelFlush": false, "title": "UTC Date & Time", "labelPadding": 30.5, "titlePadding": 5}},
     "y": {"field": "v", "type": "quantitative", "scale": {"domain": [0, 100], "nice": false},
       "axis": {"values": [0, 20, 40, 60, 80, 100], "title": "3D-Position Error [m]", "titleX": -62, "titleBaseline": "middle", "labelPadding": 22}},
     "color": {"datum": "BRDCST", "type": "nominal", "scale": {"domain": ["BRDCST", "ESTIM"], "range": ["#0072BD", "#7E2F8E"]},
       "legend": {"orient": "none", "legendX": 15, "legendY": 15, "title": null, "symbolType": "stroke", "symbolSize": 4489, "symbolStrokeWidth": 3.8, "clipHeight": 24, "rowPadding": 2, "padding": 3, "labelOffset": 7, "labelFontSize": 18, "labelFont": "Liberation Sans", "labelColor": "#000000", "strokeColor": "#262626", "fillColor": "#ffffff", "cornerRadius": 0}}
    }},
   {"data": {"name": "estim"}, "mark": {"type": "line", "clip": true, "strokeWidth": 3.8},
    "encoding": {
     "x": {"field": "m", "type": "quantitative", "axis": null},
     "y": {"field": "v", "type": "quantitative", "axis": {"values": [0, 20, 40, 60, 80, 100], "title": "3D-Position Error [m]", "titleX": -62, "titleBaseline": "middle", "labelPadding": 22}},
     "color": {"datum": "ESTIM", "type": "nominal"}
    }},
   {"data": {"name": "box"}, "mark": {"type": "rect", "filled": false, "color": "#ff0000", "strokeWidth": 4},
    "encoding": {
     "x": {"field": "m0", "type": "quantitative", "axis": {"orient": "bottom", "values": [120], "labelExpr": "'Jul 26, 2018'", "labelAlign": "right", "labelDx": -18, "labelPadding": 36.5, "labelFlush": false, "domain": false, "ticks": false, "grid": false, "title": null}},
     "x2": {"field": "m1"},
     "y": {"field": "v0", "type": "quantitative", "axis": {"values": [0, 20, 40, 60, 80, 100], "title": "3D-Position Error [m]", "titleX": -62, "titleBaseline": "middle", "labelPadding": 22}},
     "y2": {"field": "v1"}
    }}
  ],
  "resolve": {"axis": {"x": "independent"}}
 },
 {
  "width": 1721, "height": 248,
  "title": {"text": "Number of SV used in PVT", "font": "Liberation Sans", "fontSize": 22, "fontWeight": "bold", "color": "#000000", "offset": -28.5, "baseline": "bottom", "anchor": "middle"},
  "layer": [
   {"data": {"name": "nsv"}, "mark": {"type": "line", "interpolate": "step-after", "clip": true, "strokeWidth": 3.8},
    "encoding": {
     "x": {"field": "m", "type": "quantitative", "scale": {"domain": [0, 120], "nice": false, "zero": false},
       "axis": {"orient": "bottom", "values": [0, 30, 60, 90, 120], "labelExpr": "['12:30','13:00','13:30','14:00','14:30'][round(datum.value/30)]", "labelFlush": false, "title": "UTC Date & Time", "labelPadding": 30.5, "titlePadding": 5}},
     "y": {"field": "v", "type": "quantitative", "scale": {"domain": [4, 20], "nice": false, "zero": false},
       "axis": {"values": [5, 10, 15, 20], "title": "Nₛᵥ [-]", "titleX": -62, "titleBaseline": "middle", "labelPadding": 22}},
     "color": {"datum": "All SV", "type": "nominal", "scale": {"domain": ["All SV"], "range": ["#0072BD"]},
       "legend": {"orient": "none", "legendX": 15, "legendY": 14, "title": null, "symbolType": "stroke", "symbolSize": 4489, "symbolStrokeWidth": 3.8, "clipHeight": 24, "rowPadding": 2, "padding": 3, "labelOffset": 7, "labelFontSize": 18, "labelFont": "Liberation Sans", "labelColor": "#000000", "strokeColor": "#262626", "fillColor": "#ffffff", "cornerRadius": 0}}
    }},
   {"data": {"values": [{"m": 120}]}, "mark": {"type": "rule", "opacity": 0},
    "encoding": {
     "x": {"field": "m", "type": "quantitative", "axis": {"orient": "bottom", "values": [120], "labelExpr": "'Jul 26, 2018'", "labelAlign": "right", "labelDx": -18, "labelPadding": 36.5, "labelFlush": false, "domain": false, "ticks": false, "grid": false, "title": null}}
    }}
  ],
  "resolve": {"axis": {"x": "independent"}}
 }
]
}
